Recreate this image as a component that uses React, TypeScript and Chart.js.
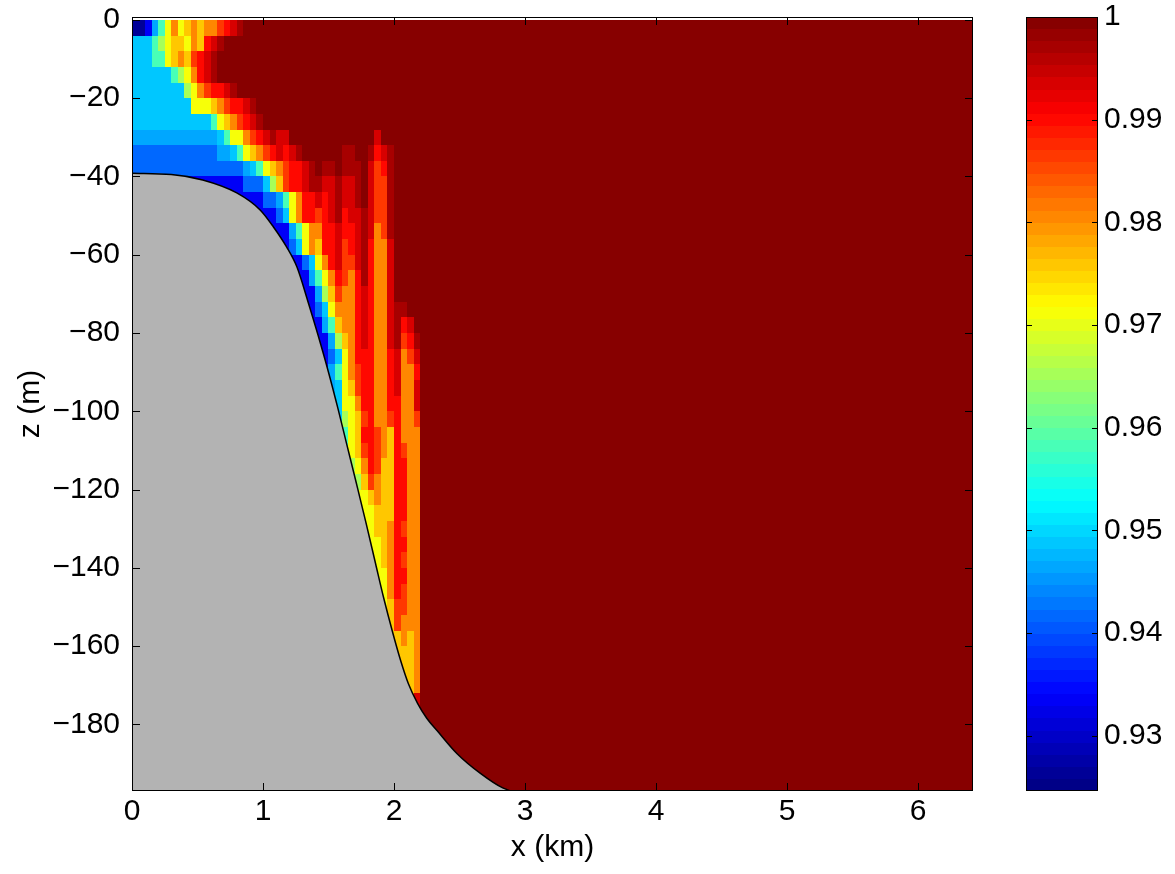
import { useEffect, useRef } from "react";
import { Chart, registerables } from "chart.js";

Chart.register(...registerables);

// ---------- axes ----------
const X_MIN = 0;
const X_MAX = 6.42;
const Z_MIN = -197;
const Z_MAX = 0.75;
const X_TICKS = [0, 1, 2, 3, 4, 5, 6];
const Z_TICKS = [0, -20, -40, -60, -80, -100, -120, -140, -160, -180];
const X_TITLE = "x (km)";
const Z_TITLE = "z (m)";

// ---------- colour bar ----------
const CB_MIN = 0.9246;
const CB_MAX = 1.0;
const CB_TICKS = [0.93, 0.94, 0.95, 0.96, 0.97, 0.98, 0.99, 1.0];
const CB_LEVELS = 64;

// ---------- field ----------
const CELL_DX_KM = 0.05;
const CELL_DZ_M = 4;
const FAR_FIELD_VALUE = 1.0;
const LEVEL_CODES = "0123456789abcd-";
const LEVEL_VALUES = [
  0.926, 0.933, 0.942, 0.946, 0.949, 0.958, 0.965, 0.971, 0.976, 0.981, 0.986,
  0.99, 0.994, 0.997, 1.0,
];
// first column index of each row's code string (cells left of it lie under the sea bed)
const FIELD_ROW_START = [
  0, 0, 0, 0, 0, 0, 0, 0, 0, 0, 6, 14, 18, 20, 21, 23, 24, 25, 25, 26, 27, 28,
  28, 29, 30, 30, 31, 31, 32, 33, 33, 34, 34, 35, 35, 36, 36, 37, 38, 38, 39,
  40, 40, 41,
];
// rows of 4 m from the surface, columns of 0.05 km from x = 0
const FIELD_ROWS = [
  "0013579789899abcd",
  "44456788798bcd",
  "444557898abcd",
  "4444445679bcd",
  "44444444679abbcd",
  "44444444477789abbcd",
  "4444444444445789abcd",
  "333333333333345779abcdcc-------------c",
  "22222222222223345789abcbcd------dd--dbcd",
  "22222222222222222345789abbcd-dd-ddd-cabd",
  "11111111111222468abbcddccdccd-caad",
  "111111223579bbcbcdccd-caad",
  "11112479bbabcdbccdcaad",
  "111135799bbcbbcdc9ad",
  "11124798bbcabcdb99c",
  "1112479bcaacdb99c",
  "1113579ba9bdb99c",
  "111368a99bcb99c",
  "111247999bcb99cdd",
  "11135899bcb99cdbc",
  "1113689bcb99cdabd",
  "112479bbb99bc9ac",
  "113579abb99bc99b",
  "33478abb99bc99c",
  "44779bb99bb99c",
  "44678ab99ab99a",
  "5578bba98b999",
  "5578aba98ba99",
  "6679ba88bb99",
  "668a988bb99",
  "7778988bb99",
  "777888bb99",
  "777889ba99",
  "77789bb99",
  "77789ba99",
  "7779bb99",
  "7779ba99",
  "778aa99",
  "88a999",
  "888989",
  "88889",
  "8889",
  "8889",
  "99c",
];

// ---------- bathymetry ----------
const BATHY_X = [
  0, 0.3, 0.54, 0.8, 0.98, 1.08, 1.18, 1.26, 1.34, 1.42, 1.5, 1.57, 1.64, 1.71,
  1.79, 1.86, 1.92, 1.99, 2.05, 2.11, 2.18, 2.25, 2.33, 2.48, 2.66, 2.83, 2.95,
  6.42,
];
const BATHY_Z = [
  -39.2, -39.5, -40.9, -44.2, -48.6, -52.9, -58.0, -63.2, -71.6, -80.5, -90,
  -99, -108.5, -118, -129, -139, -147.5, -156.5, -163.6, -169.6, -174.6, -178.4,
  -181.6, -187.4, -192.5, -196.2, -197.3, -197.3,
];

// ---------- style ----------
const FONT = "'Liberation Sans', Arial, Helvetica, sans-serif";
const FONT_SIZE = 30;
const LAND_COLOR = "#b3b3b3";
const W = 1175;
const H = 874;
const PLOT_LEFT = 132;
const PLOT_TOP = 17;
const PLOT_RIGHT = 973;
const PLOT_BOTTOM = 791;
const CB_GAP = 53;
const CB_WIDTH = 72;
const TICK_LEN = 8;
const CB_TICK_LEN = 6;

function clamp01(v: number) {
  return Math.max(0, Math.min(1, v));
}

function jetColor(v: number): string {
  const t = (v - CB_MIN) / (CB_MAX - CB_MIN);
  const k = Math.max(0, Math.min(CB_LEVELS - 1, Math.floor(t * CB_LEVELS)));
  const tt = (k + 0.5) / CB_LEVELS;
  const r = clamp01(1.5 - Math.abs(4 * tt - 3));
  const g = clamp01(1.5 - Math.abs(4 * tt - 2));
  const b = clamp01(1.5 - Math.abs(4 * tt - 1));
  return `rgb(${Math.round(r * 255)},${Math.round(g * 255)},${Math.round(b * 255)})`;
}

const heatmapPlugin = {
  id: "heatmap",
  beforeDatasetsDraw(chart: any) {
    const { ctx, chartArea, scales } = chart;
    const xs = scales.x;
    const ys = scales.y;
    ctx.save();
    ctx.beginPath();
    ctx.rect(chartArea.left, chartArea.top, chartArea.right - chartArea.left, chartArea.bottom - chartArea.top);
    ctx.clip();
    const fx0 = Math.round(xs.getPixelForValue(X_MIN));
    const fx1 = Math.round(xs.getPixelForValue(X_MAX));
    const fy0 = Math.round(ys.getPixelForValue(0));
    const fy1 = Math.round(ys.getPixelForValue(Z_MIN));
    ctx.fillStyle = jetColor(FAR_FIELD_VALUE);
    ctx.fillRect(fx0, fy0, fx1 - fx0, fy1 - fy0);
    FIELD_ROWS.forEach((codes, j) => {
      const start = FIELD_ROW_START[j];
      const y0 = Math.round(ys.getPixelForValue(-j * CELL_DZ_M));
      const y1 = Math.round(ys.getPixelForValue(-(j + 1) * CELL_DZ_M));
      for (let k = 0; k < codes.length; k++) {
        const idx = LEVEL_CODES.indexOf(codes[k]);
        if (idx < 0) continue;
        const i = start + k;
        const x0 = Math.round(xs.getPixelForValue(i * CELL_DX_KM));
        const x1 = Math.round(xs.getPixelForValue((i + 1) * CELL_DX_KM));
        ctx.fillStyle = jetColor(LEVEL_VALUES[idx]);
        ctx.fillRect(x0, y0, x1 - x0, y1 - y0);
      }
    });
    ctx.restore();
  },
};

const framePlugin = {
  id: "frame",
  afterDatasetsDraw(chart: any) {
    const { ctx, chartArea, scales } = chart;
    const { left, top, right, bottom } = chartArea;
    ctx.save();
    ctx.strokeStyle = "#000";
    ctx.lineWidth = 1;
    ctx.beginPath();
    X_TICKS.forEach((v) => {
      const px = Math.round(scales.x.getPixelForValue(v)) + 0.5;
      ctx.moveTo(px, bottom);
      ctx.lineTo(px, bottom - TICK_LEN);
      ctx.moveTo(px, top);
      ctx.lineTo(px, top + TICK_LEN);
    });
    Z_TICKS.forEach((v) => {
      const py = Math.round(scales.y.getPixelForValue(v)) + 0.5;
      ctx.moveTo(left, py);
      ctx.lineTo(left + TICK_LEN, py);
      ctx.moveTo(right, py);
      ctx.lineTo(right - TICK_LEN, py);
    });
    ctx.stroke();
    ctx.strokeRect(Math.round(left) + 0.5, Math.round(top) + 0.5, Math.round(right - left) - 1, Math.round(bottom - top) - 1);
    ctx.restore();
  },
};

const colorbarPlugin = {
  id: "colorbar",
  afterDraw(chart: any) {
    const { ctx, chartArea, scales } = chart;
    const cb = scales.cb;
    const x0 = Math.round(chartArea.right + CB_GAP);
    const x1 = x0 + CB_WIDTH;
    ctx.save();
    const step = (CB_MAX - CB_MIN) / CB_LEVELS;
    for (let k = 0; k < CB_LEVELS; k++) {
      const v0 = CB_MIN + k * step;
      const v1 = v0 + step;
      const ya = Math.round(cb.getPixelForValue(v1));
      const yb = Math.round(cb.getPixelForValue(v0));
      ctx.fillStyle = jetColor((v0 + v1) / 2);
      ctx.fillRect(x0, ya, x1 - x0, yb - ya);
    }
    ctx.strokeStyle = "#000";
    ctx.lineWidth = 1;
    ctx.beginPath();
    CB_TICKS.forEach((v) => {
      const py = Math.round(cb.getPixelForValue(v)) + 0.5;
      ctx.moveTo(x0, py);
      ctx.lineTo(x0 + CB_TICK_LEN, py);
      ctx.moveTo(x1, py);
      ctx.lineTo(x1 - CB_TICK_LEN, py);
    });
    ctx.stroke();
    const yt = Math.round(cb.getPixelForValue(CB_MAX));
    const yb = Math.round(cb.getPixelForValue(CB_MIN));
    ctx.strokeRect(x0 + 0.5, yt + 0.5, x1 - x0 - 1, yb - yt - 1);
    ctx.restore();
  },
};

function fixVertical(width: number) {
  return (s: any) => {
    s.width = width;
    s.paddingTop = 0;
    s.paddingBottom = 0;
  };
}

export default function App() {
  const canvasRef = useRef<HTMLCanvasElement | null>(null);

  useEffect(() => {
    document.body.style.margin = "0";
    const canvas = canvasRef.current;
    if (!canvas) return;
    canvas.width = W;
    canvas.height = H;
    const tickFont = { family: FONT, size: FONT_SIZE };
    const bathy = BATHY_X.map((x, i) => ({ x, y: BATHY_Z[i] }));
    const chart = new Chart(canvas, {
      type: "scatter",
      data: {
        datasets: [
          {
            type: "line",
            label: "bathymetry",
            data: bathy,
            xAxisID: "x",
            yAxisID: "y",
            showLine: true,
            borderColor: "#000",
            borderWidth: 1.5,
            backgroundColor: LAND_COLOR,
            fill: "start",
            pointRadius: 0,
            cubicInterpolationMode: "monotone",
          } as any,
        ],
      },
      options: {
        animation: false,
        responsive: false,
        maintainAspectRatio: false,
        devicePixelRatio: 1,
        events: [],
        layout: { padding: { left: 0, right: 0, top: PLOT_TOP, bottom: 0 } },
        plugins: { legend: { display: false }, tooltip: { enabled: false } },
        scales: {
          x: {
            type: "linear",
            position: "bottom",
            min: X_MIN,
            max: X_MAX,
            afterBuildTicks: (s: any) => {
              s.ticks = X_TICKS.map((v) => ({ value: v }));
            },
            afterFit: (s: any) => {
              s.height = H - PLOT_BOTTOM;
              s.paddingLeft = 0;
              s.paddingRight = 0;
            },
            grid: { display: false, drawTicks: false },
            border: { display: false },
            ticks: {
              color: "#000",
              font: tickFont,
              padding: 3,
              maxRotation: 0,
              autoSkip: false,
              callback: (v: any) => String(v),
            },
            title: {
              display: true,
              text: X_TITLE,
              color: "#000",
              font: tickFont,
              padding: { top: 0, bottom: 8 },
            },
          },
          y: {
            type: "linear",
            position: "left",
            min: Z_MIN,
            max: Z_MAX,
            afterBuildTicks: (s: any) => {
              s.ticks = Z_TICKS.map((v) => ({ value: v }));
            },
            afterFit: fixVertical(PLOT_LEFT),
            grid: { display: false, drawTicks: false },
            border: { display: false },
            ticks: {
              color: "#000",
              font: tickFont,
              padding: 12,
              autoSkip: false,
              callback: (v: any) => (v < 0 ? "\u2212" + Math.abs(v) : String(v)),
            },
            title: {
              display: true,
              text: Z_TITLE,
              color: "#000",
              font: tickFont,
              padding: { top: 13, bottom: 0 },
            },
          },
          cb: {
            type: "linear",
            axis: "y",
            position: "right",
            min: CB_MIN,
            max: CB_MAX,
            afterBuildTicks: (s: any) => {
              s.ticks = CB_TICKS.map((v) => ({ value: v }));
            },
            afterFit: fixVertical(W - PLOT_RIGHT),
            grid: { display: false, drawTicks: false },
            border: { display: false },
            ticks: {
              color: "#000",
              font: tickFont,
              padding: CB_GAP + CB_WIDTH + 6,
              autoSkip: false,
              callback: (v: any) => (v >= 1 ? "1" : Number(v).toFixed(2)),
            },
          },
        } as any,
      },
      plugins: [heatmapPlugin, framePlugin, colorbarPlugin],
    });
    return () => chart.destroy();
  }, []);

  return (
    <div style={{ position: "relative", width: W, height: H, background: "#fff" }}>
      <canvas ref={canvasRef} width={W} height={H} style={{ display: "block", width: W, height: H }} />
    </div>
  );
}
